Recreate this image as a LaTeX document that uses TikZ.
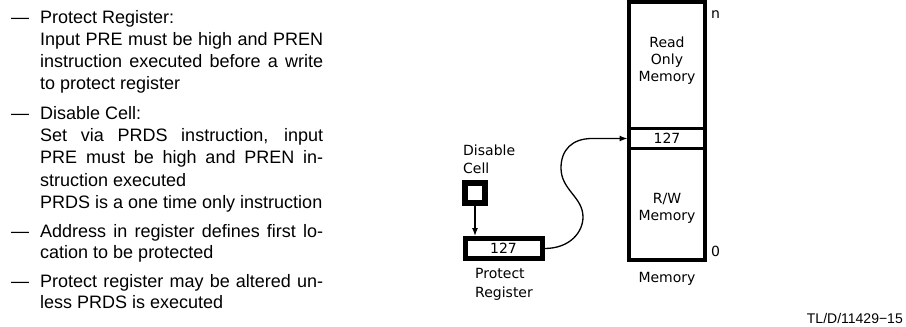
\documentclass[tikz,border=0pt]{standalone}
\usepackage{fontspec}
\setmainfont{Liberation Sans}
\newfontfamily\diagfont{DejaVu Sans}
\usetikzlibrary{arrows.meta}
\newcommand\jline[1]{\makebox[283pt][s]{#1}}
\begin{document}
\begin{tikzpicture}[x=1pt,y=-1pt,
  txt/.style={inner sep=0pt, anchor=base west, font=\fontsize{18}{21}\selectfont},
  dg/.style={inner sep=0pt, font=\diagfont\fontsize{14}{17}\selectfont},
  dgb/.style={dg, anchor=base},
  dgw/.style={dg, anchor=base west},
  conn/.style={line width=1.3pt},
  tip/.style={-{Latex[length=8pt,width=6pt]}}]
\useasboundingbox (0,0) rectangle (906,327);

% left-hand text
\node[txt] (d1) at (11,23) {—};
\node[txt] (l1) at (40,23) {Protect Register:};
\node[txt] (l2) at (40,45) {\jline{Input PRE must be high and PREN}};
\node[txt] (l3) at (40,67) {\jline{instruction executed before a write}};
\node[txt] (l4) at (40,89) {to protect register};
\node[txt] (d2) at (11,119) {—};
\node[txt] (l5) at (40,119) {Disable Cell:};
\node[txt] (l6) at (40,141) {\jline{Set via PRDS instruction, input}};
\node[txt] (l7) at (40,163) {\jline{PRE must be high and PREN in-}};
\node[txt] (l8) at (40,186) {struction executed};
\node[txt] (l9) at (40,208) {PRDS is a one time only instruction};
\node[txt] (d3) at (11,237) {—};
\node[txt] (l10) at (40,237) {\jline{Address in register defines first lo-}};
\node[txt] (l11) at (40,258) {cation to be protected};
\node[txt] (d4) at (11,287) {—};
\node[txt] (l12) at (40,287) {\jline{Protect register may be altered un-}};
\node[txt] (l13) at (40,308) {less PRDS is executed};

% memory
\node[draw, line width=3.5pt, minimum width=76pt, minimum height=258pt, inner sep=0pt] (mem) at (667,131) {};
\node[draw, line width=3pt, minimum width=76pt, minimum height=20pt, dg] (row) at (667,138.5) {127};
\node[dgb] (rom1) at (667,47) {Read};
\node[dgb] (rom2) at (667,64) {Only};
\node[dgb] (rom3) at (667,81) {Memory};
\node[dgb] (rw1) at (667,203) {R/W};
\node[dgb] (rw2) at (667,220) {Memory};
\node[dgb] (memlbl) at (667,282) {Memory};
\node[dgw] (n) at (711,18) {n};
\node[dgw] (zero) at (711,256) {0};

% disable cell and register
\node[dgw] (dis1) at (463,155) {Disable};
\node[dgw] (dis2) at (463,173) {Cell};
\node[draw, line width=6pt, minimum width=20pt, minimum height=20pt, inner sep=0pt] (cell) at (475,192.5) {};
\node[draw, line width=5pt, minimum width=77pt, minimum height=20pt, inner sep=0pt, dg] (reg) at (503.5,248.5) {127};
\node[dgw] (pr1) at (475,278) {Protect};
\node[dgw] (pr2) at (475,297) {Register};

\draw[conn, tip] (cell.south) -- (cell.south |- reg.north);

\coordinate (c1) at (583,217);
\coordinate (c2) at (561,168);
\coordinate (c3) at (592,138.5);
\draw[conn, tip] (reg.east) .. controls (570,248.5) and (583,232) .. (c1)
   .. controls (583,197) and (561,190) .. (c2)
   .. controls (561,150) and (572,138.5) .. (c3) -- (row.west);

% figure code
\node[inner sep=0pt, anchor=base east, font=\fontsize{14}{16}\selectfont] (code) at (903,323) {TL/D/11429−15};
\end{tikzpicture}
\end{document}
